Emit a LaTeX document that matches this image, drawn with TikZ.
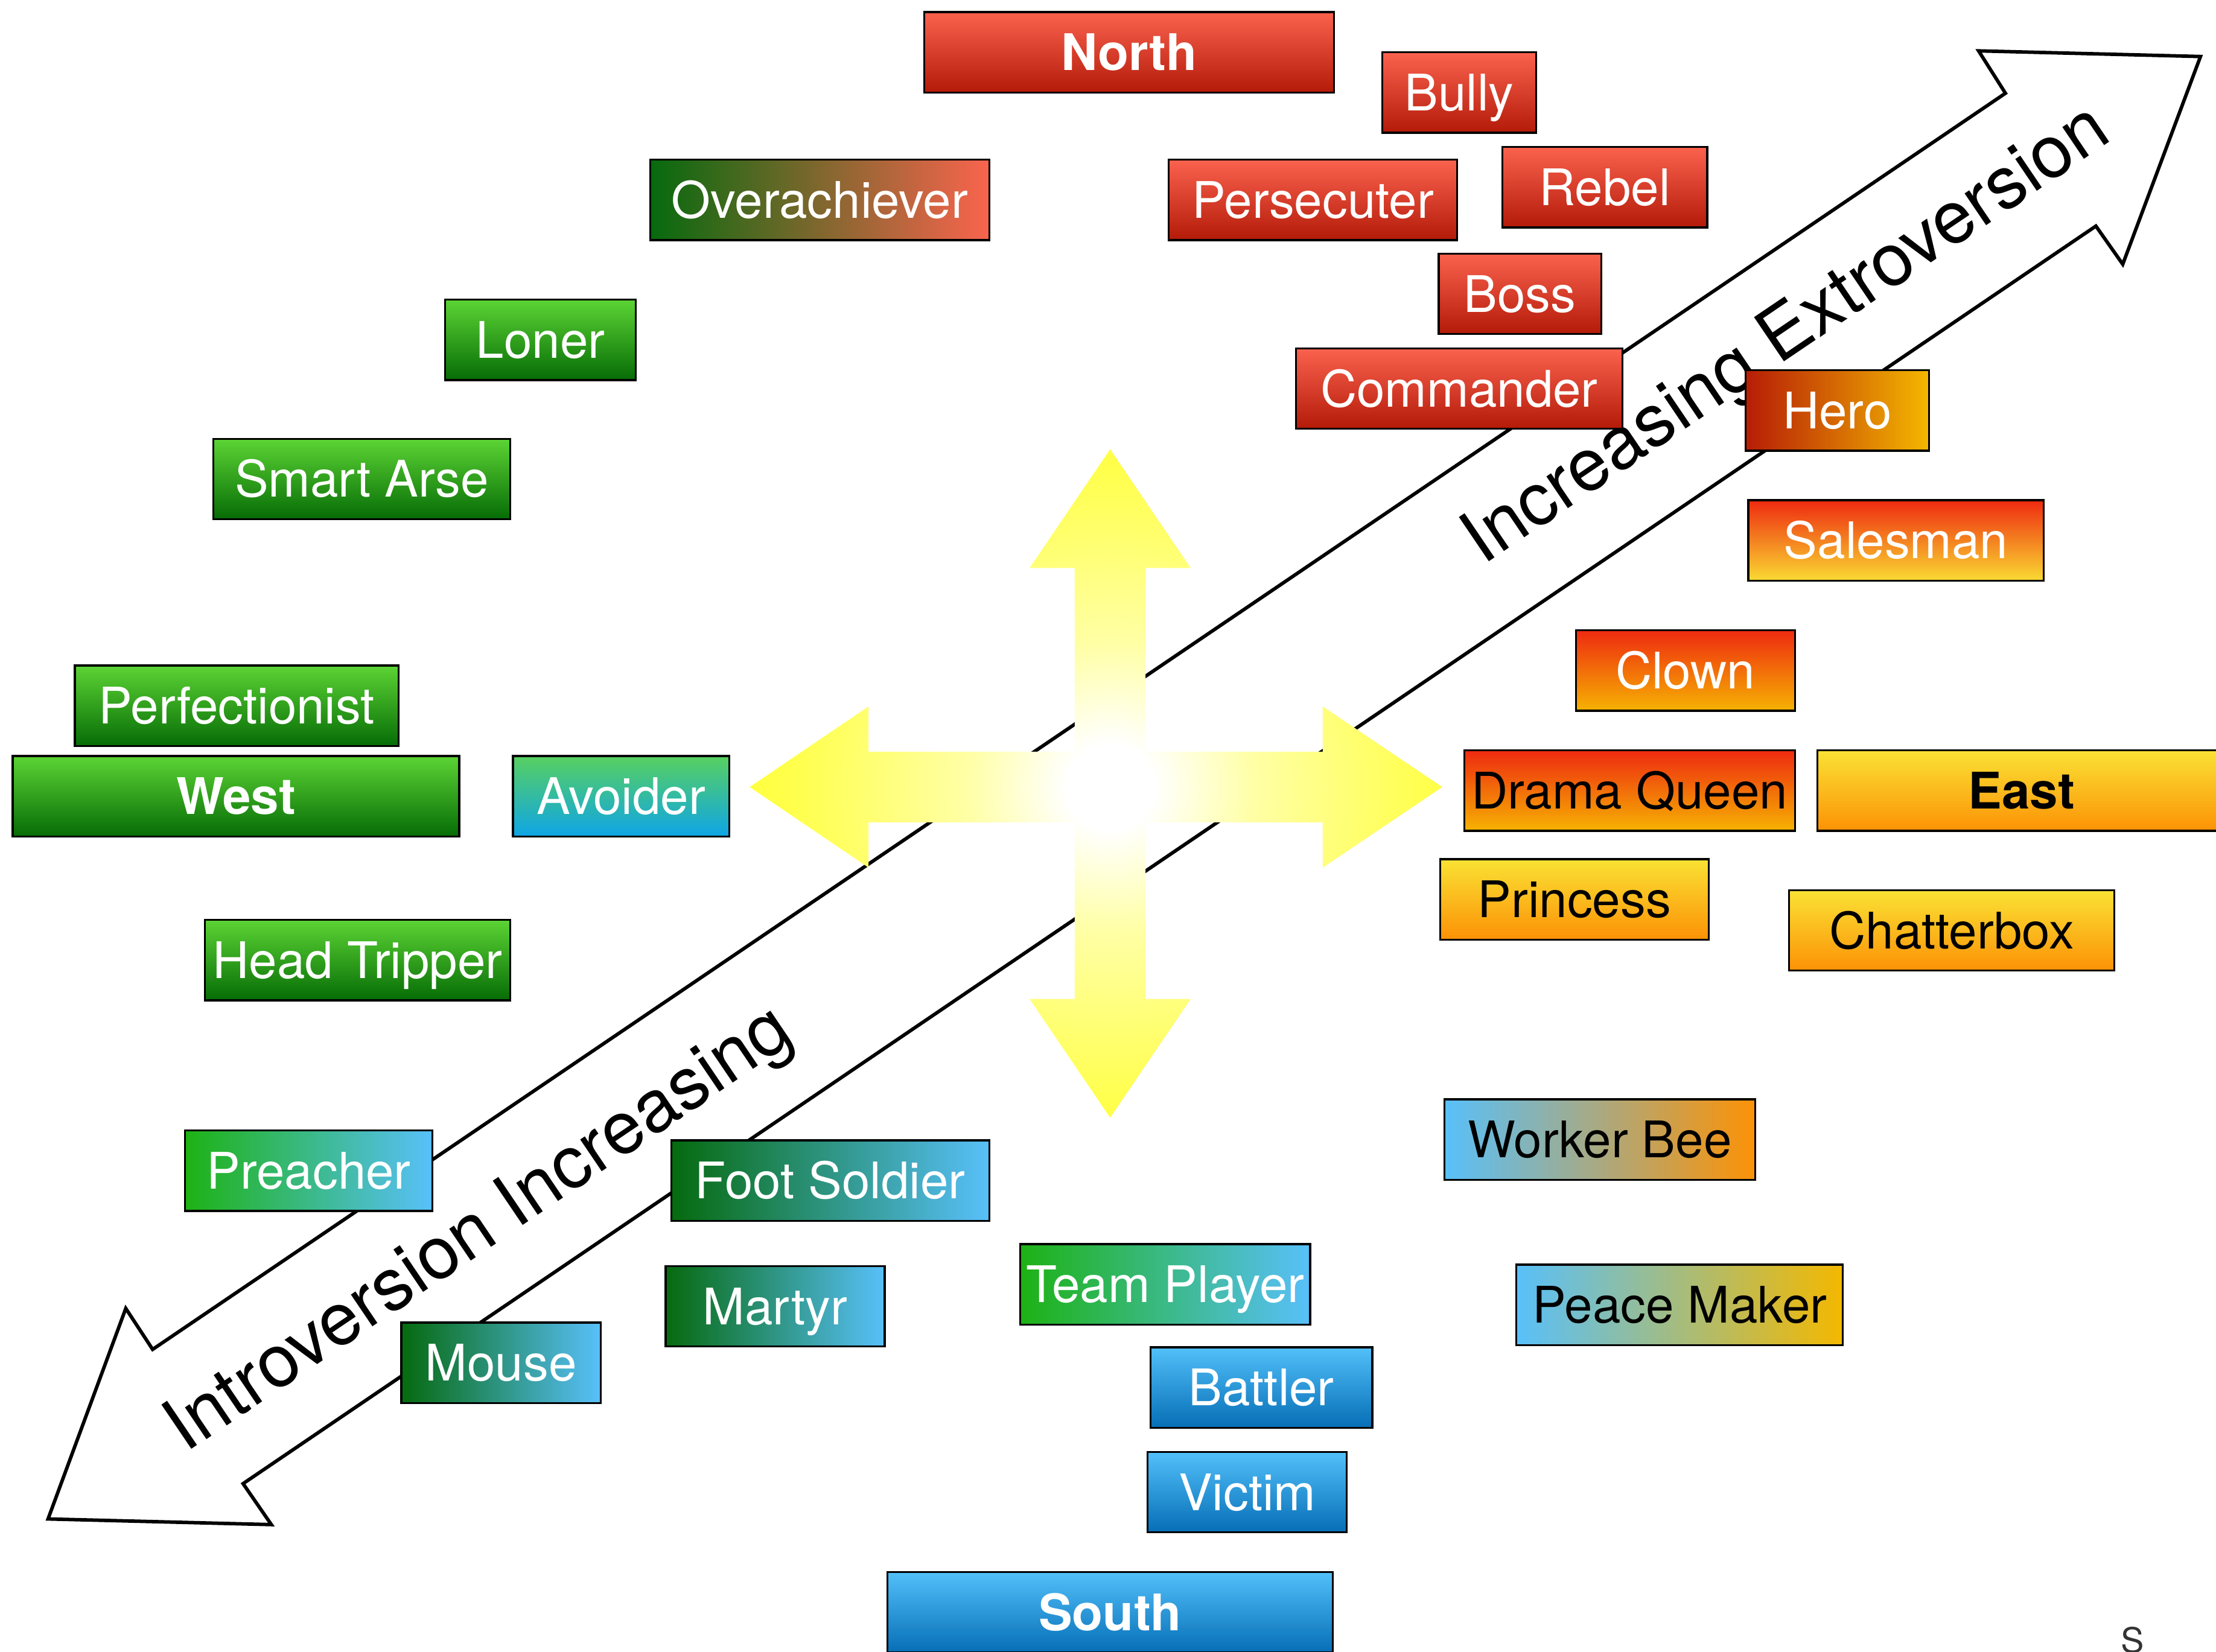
\documentclass[tikz,border=0pt]{standalone}
\usepackage{fontspec}
\setmainfont{TeX Gyre Heros}
\definecolor{redtop}{RGB}{250,98,78}
\definecolor{redbot}{RGB}{180,26,8}
\definecolor{greentop}{RGB}{92,212,52}
\definecolor{greenbot}{RGB}{6,108,6}
\definecolor{bluetop}{RGB}{82,192,250}
\definecolor{bluebot}{RGB}{6,110,182}
\definecolor{yeltop}{RGB}{250,226,52}
\definecolor{yelbot}{RGB}{252,146,6}
\definecolor{flame}{RGB}{238,42,16}
\definecolor{sunny}{RGB}{250,218,50}
\definecolor{amber}{RGB}{246,178,2}
\definecolor{darkred}{RGB}{182,28,6}
\definecolor{gold}{RGB}{244,184,0}
\definecolor{forest}{RGB}{6,106,14}
\definecolor{grass}{RGB}{30,178,20}
\definecolor{sky}{RGB}{88,192,250}
\definecolor{salmon}{RGB}{250,100,78}
\definecolor{mint}{RGB}{88,208,96}
\definecolor{ocean}{RGB}{14,165,230}
\definecolor{lemon}{RGB}{255,255,0}
\pgfdeclareradialshading{glow}{\pgfpoint{0bp}{0bp}}{color(0bp)=(white); color(3bp)=(white); color(10bp)=(lemon!35!white); color(22bp)=(lemon!70!white); color(40bp)=(lemon); color(50bp)=(lemon)}
\newcommand\rolefont{\fontsize{20.3pt}{24pt}\selectfont}
\newcommand\axisfont{\fontsize{29.5pt}{34pt}\selectfont}
\tikzset{
  role/.style={draw=black, line width=0.8pt, inner sep=0pt, minimum height=1.14cm,
    text height=14.6pt, text depth=0pt, font=\rolefont, text=white},
  wd/.style={minimum width=#1*0.02cm},
  redbox/.style={role, top color=redtop, bottom color=redbot},
  greenbox/.style={role, top color=greentop, bottom color=greenbot},
  bluebox/.style={role, top color=bluetop, bottom color=bluebot},
  yellowbox/.style={role, top color=yeltop, bottom color=yelbot, text=black},
  axislabel/.style={font=\axisfont, rotate=34.1, inner sep=0pt, text height=21.2pt, text depth=0pt}
}
\begin{document}
\begin{tikzpicture}[x=0.02cm, y=-0.02cm] % Pixel der Vorlage
\useasboundingbox (0,0) rectangle (1568,1169);
% Doppelpfeil Introversion / Extroversion
\draw[line width=1.4pt, fill=white] (1419,66) -- (1400,36) -- (1557,40) -- (1502,187) -- (1483,160)
  -- (172,1050) -- (192,1079) -- (34,1075) -- (89,926) -- (108,955) -- cycle;
\node[axislabel] (extro) at (1262,234) {Increasing Extroversion};
\node[axislabel] (intro) at (337,867) {Introversion Increasing};
% gelbes Kreuz
\begin{scope}
\clip (785.5,318) -- (842.5,402) -- (810.5,402) -- (810.5,532) -- (936,532) -- (936,500)
  -- (1020.5,557) -- (936,614) -- (936,582) -- (810.5,582) -- (810.5,707) -- (842.5,707)
  -- (785.5,791) -- (728.5,707) -- (760.5,707) -- (760.5,582) -- (614.5,582) -- (614.5,614)
  -- (530.5,557) -- (614.5,500) -- (614.5,532) -- (760.5,532) -- (760.5,402) -- (728.5,402) -- cycle;
\shade[shading=glow] (785.5,557) circle (255);
\end{scope}
% Norden (rot)
\node[redbox, wd=290, font=\rolefont\bfseries] (north) at (799,37) {North};
\foreach \nm/\txt/\x/\y/\w in {bully/Bully/1032.5/65.5/109, persecuter/Persecuter/929/141.5/204,
  rebel/Rebel/1135.5/132.5/145, boss/Boss/1075.5/208/115, commander/Commander/1032.5/275/231}
  \node[redbox, wd=\w] (\nm) at (\x,\y) {\txt};
% Westen (gruen)
\node[greenbox, wd=316, font=\rolefont\bfseries] (west) at (167,563.5) {West};
\foreach \nm/\txt/\x/\y/\w in {loner/Loner/382.5/240.5/135, smartarse/Smart Arse/256/339/210,
  perfectionist/Perfectionist/167.5/499.5/229, headtripper/Head Tripper/253/679.5/216}
  \node[greenbox, wd=\w] (\nm) at (\x,\y) {\txt};
% Sueden (blau)
\node[bluebox, wd=315, font=\rolefont\bfseries] (south) at (785.5,1141) {South};
\foreach \nm/\txt/\x/\y/\w in {battler/Battler/892.5/982/157, victim/Victim/882.5/1056/141}
  \node[bluebox, wd=\w] (\nm) at (\x,\y) {\txt};
% Osten (gelb)
\node[yellowbox, wd=289, font=\rolefont\bfseries] (east) at (1430.5,559.5) {East};
\foreach \nm/\txt/\x/\y/\w in {princess/Princess/1114/636.5/190, chatterbox/Chatterbox/1381/658.5/230}
  \node[yellowbox, wd=\w] (\nm) at (\x,\y) {\txt};
% Mischtypen
\node[role, wd=209, top color=flame, bottom color=sunny] (salesman) at (1341.5,382.5) {Salesman};
\node[role, wd=155, top color=flame, bottom color=amber] (clown) at (1192.5,474.5) {Clown};
\node[role, wd=234, top color=flame, bottom color=amber, text=black] (dramaqueen) at (1153,559.5) {Drama Queen};
\node[role, wd=130, left color=darkred, right color=gold] (hero) at (1300,290.5) {Hero};
\node[role, wd=240, left color=forest, right color=salmon] (overachiever) at (580,141.5) {Overachiever};
\node[role, wd=153, top color=mint, bottom color=ocean] (avoider) at (439.5,563.5) {Avoider};
\foreach \nm/\txt/\x/\y/\w in {preacher/Preacher/218.5/828.5/175, teamplayer/Team Player/824.5/909/205}
  \node[role, wd=\w, left color=grass, right color=sky] (\nm) at (\x,\y) {\txt};
\foreach \nm/\txt/\x/\y/\w in {footsoldier/Foot Soldier/587.5/835.5/225, martyr/Martyr/548.5/924.5/155,
  mouse/Mouse/354.5/964.5/141}
  \node[role, wd=\w, left color=forest, right color=sky] (\nm) at (\x,\y) {\txt};
\node[role, wd=220, left color=sky, right color=yelbot, text=black] (workerbee) at (1132,806.5) {Worker Bee};
\node[role, wd=231, left color=sky, right color=gold, text=black] (peacemaker) at (1188.5,923.5) {Peace Maker};
% Rest unten rechts
\node[anchor=north, inner sep=0pt, font=\fontsize{14pt}{16pt}\selectfont, text=black!80] (scorner) at (1509,1151) {S};
\end{tikzpicture}
\end{document}
